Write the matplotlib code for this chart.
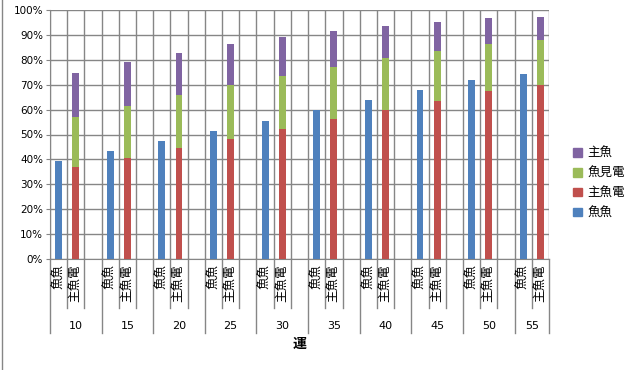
import matplotlib.pyplot as plt
import matplotlib.transforms as mtransforms
from matplotlib.patches import Patch
from matplotlib.ticker import PercentFormatter
import numpy as np

plt.rcParams['font.family'] = ['Noto Sans CJK JP', 'DejaVu Sans']

# data (percent)
groups = ['10', '15', '20', '25', '30', '35', '40', '45', '50', '55']
sub_labels = ['魚魚', '主魚電']
fish = [39.4, 43.4, 47.4, 51.4, 55.4, 59.8, 63.9, 67.9, 71.9, 74.3]          # 魚魚
red_part = [36.9, 40.6, 44.6, 48.2, 52.2, 56.2, 59.8, 63.5, 67.5, 69.9]      # 主魚電
green_part = [20.1, 20.8, 21.3, 21.7, 21.3, 20.9, 20.9, 20.0, 18.8, 18.1]    # 魚見電
purple_part = [17.7, 17.7, 16.8, 16.4, 15.7, 14.5, 12.9, 11.7, 10.5, 9.2]    # 主魚

c_blue = '#4F81BD'
c_red = '#C0504D'
c_green = '#9BBB59'
c_purple = '#8064A2'
grid_c = '#868686'

fig = plt.figure(figsize=(6.32, 3.70), dpi=100)
ax = fig.add_axes([50 / 632, 1 - 259 / 370, 499 / 632, 249 / 370])

n = len(groups)
ncols = 3 * n - 1  # each group: blue, stack, empty (last group has no empty slot)
x_blue = np.arange(n) * 3 + 0.5
x_stack = np.arange(n) * 3 + 1.5
w = 0.4

ax.bar(x_blue, fish, width=w, color=c_blue, zorder=3)
ax.bar(x_stack, red_part, width=w, color=c_red, zorder=3)
ax.bar(x_stack, green_part, width=w, bottom=red_part, color=c_green, zorder=3)
bottom2 = np.array(red_part) + np.array(green_part)
ax.bar(x_stack, purple_part, width=w, bottom=bottom2, color=c_purple, zorder=3)

ax.set_xlim(0, ncols)
ax.set_ylim(0, 100)
ax.set_yticks(np.arange(0, 101, 10))
ax.yaxis.set_major_formatter(PercentFormatter(decimals=0))
ax.set_xticks(np.arange(0, ncols + 1))
ax.set_xticklabels([])
ax.tick_params(axis='x', length=0)
ax.tick_params(axis='y', length=3, color=grid_c, labelsize=7.5, pad=2)
for lab in ax.get_yticklabels():
    lab.set_family('DejaVu Sans')
ax.grid(True, color=grid_c, linewidth=1, zorder=0)
for s in ['top', 'right']:
    ax.spines[s].set_visible(False)
for s in ['left', 'bottom']:
    ax.spines[s].set_color(grid_c)

# multi-level category axis
trans = mtransforms.blended_transform_factory(ax.transData, ax.transAxes)
for i in range(ncols + 1):
    y_end = -0.297 if (i % 3 == 0 or i == ncols) else -0.197
    ax.plot([i, i], [0, y_end], color=grid_c, lw=1, transform=trans, clip_on=False)
for i, g in enumerate(groups):
    for j, s in enumerate(sub_labels):
        ax.text(3 * i + j + 0.5, -0.022, s, transform=trans, rotation=90,
                ha='center', va='top', fontsize=9)
    gc = 3 * i + 1.5 if i < n - 1 else 3 * i + 1
    ax.text(gc, -0.27, g, transform=trans, ha='center', va='center',
            fontsize=8, family='DejaVu Sans')

ax.text(0.5, -0.34, '運', transform=ax.transAxes, ha='center', va='center',
        fontsize=10, fontweight='bold')

# left chart border
fig.add_artist(plt.Line2D([1.5 / 632, 1.5 / 632], [0, 1], color=grid_c, lw=1))

handles = [Patch(color=c_purple, label='主魚'),
           Patch(color=c_green, label='魚見電'),
           Patch(color=c_red, label='主魚電'),
           Patch(color=c_blue, label='魚魚')]
fig.legend(handles=handles, loc='center left', bbox_to_anchor=(562 / 632, 1 - 183 / 370),
           frameon=False, fontsize=9, handlelength=0.7, handleheight=0.7,
           handletextpad=0.4, labelspacing=0.55)

fig.savefig('out.png', dpi=100)
